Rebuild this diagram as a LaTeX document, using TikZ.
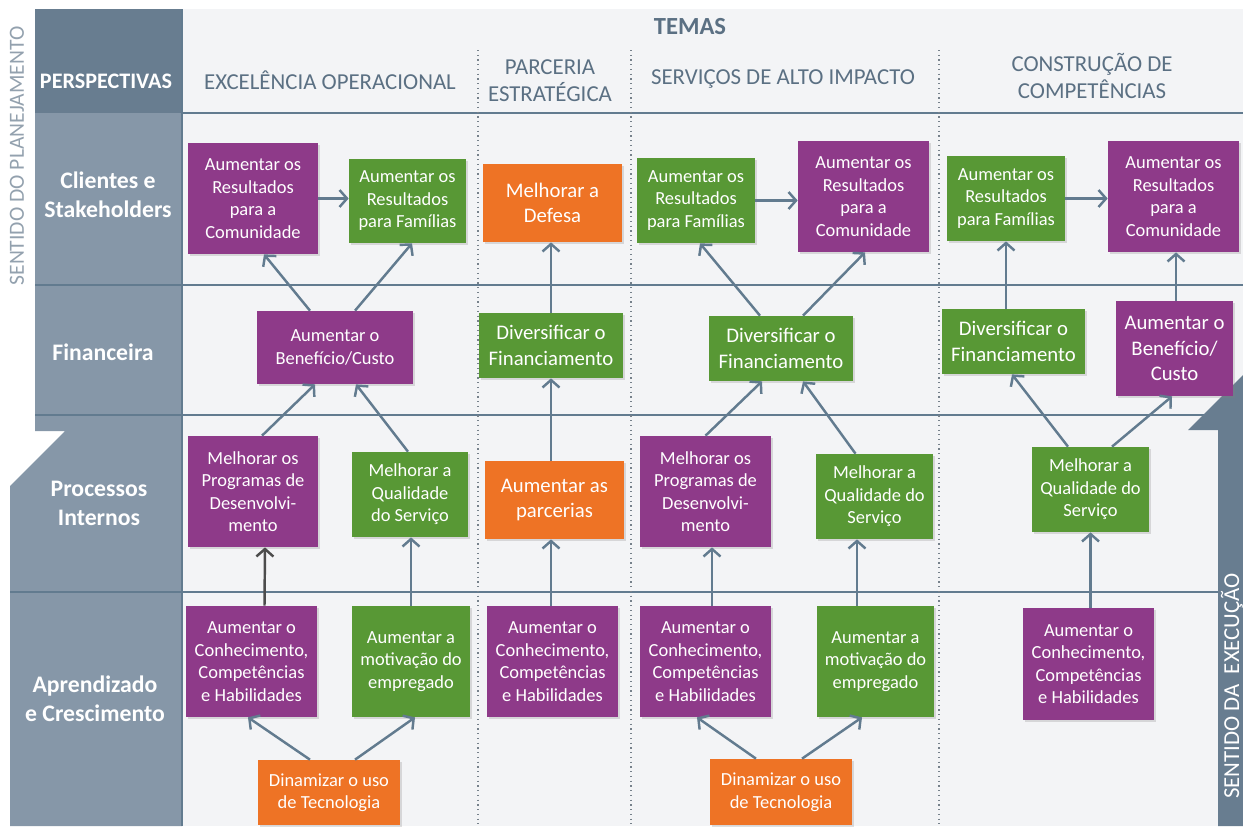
\documentclass[tikz,border=0pt]{standalone}
\usepackage{fontspec}
\setmainfont{Carlito}
\usetikzlibrary{arrows.meta,calc,shadows}

\definecolor{fundo}{HTML}{F3F4F6}
\definecolor{ardosia}{HTML}{687D90}
\definecolor{coluna}{HTML}{8697A8}
\definecolor{linha}{HTML}{627B8F}
\definecolor{titulo}{HTML}{5B7083}
\definecolor{lateral}{HTML}{93A1AE}
\definecolor{roxo}{HTML}{8E3A89}
\definecolor{verde}{HTML}{589835}
\definecolor{laranja}{HTML}{EE7325}

\begin{document}
\begin{tikzpicture}[x=0.02cm,y=-0.02cm,
    caixa/.style={rectangle,inner sep=1pt,align=center,text=white,
      font=\fontsize{10.5}{12.8}\selectfont,
      drop shadow={shadow xshift=1.2pt,shadow yshift=-1.2pt,opacity=0.25}},
    grande/.style={font=\fontsize{11.8}{14.6}\selectfont},
    caixaroxa/.style={caixa,fill=roxo},
    caixaverde/.style={caixa,fill=verde},
    caixalaranja/.style={caixa,fill=laranja},
    seta/.style={draw=linha,line width=1.4pt,-{Straight Barb[length=1.5mm,width=3.4mm]}},
    cabec/.style={align=center,text=titulo,font=\fontsize{13}{15.3}\selectfont},
    rotulo/.style={align=center,text=white,font=\bfseries\fontsize{13.5}{16.5}\selectfont}]
  \useasboundingbox (0,0) rectangle (1243,826);

  % fundo, coluna das perspectivas e grade
  \fill[fundo] (182,9) rectangle (1243,826);
  \fill[coluna] (35,113) -- (35,431) -- (65,431) -- (10,486) -- (10,826)
    -- (182,826) -- (182,113) -- cycle;
  \fill[ardosia] (35,9) rectangle (182,113);
  \draw[linha,line width=1pt] (182,9) -- (182,826);
  \draw[linha,line width=1.2pt] (182,113) -- (1243,113) (35,285) -- (1243,285)
    (35,415) -- (1243,415) (10,592) -- (1243,592);
  \draw[lateral!80!black,dotted,line width=0.7pt] (478,50) -- (478,826)
    (631,50) -- (631,826) (939,50) -- (939,826);
  \fill[ardosia] (1218,826) -- (1218,430) -- (1188,430) -- (1243,375)
    -- (1243,826) -- cycle;

  % titulos
  \node[text=titulo,font=\bfseries\fontsize{14}{16}\selectfont] (temas) at (690,27) {TEMAS};
  \node[cabec] (hEO) at (330,80) {EXCELÊNCIA OPERACIONAL};
  \node[cabec] (hPE) at (550,81) {PARCERIA\\ESTRATÉGICA};
  \node[cabec] (hSA) at (783,79) {SERVIÇOS DE ALTO IMPACTO};
  \node[cabec] (hCC) at (1092,76) {CONSTRUÇÃO DE\\COMPETÊNCIAS};
  \node[rotulo,font=\bfseries\fontsize{12.6}{14}\selectfont] (rPersp) at (106,81) {PERSPECTIVAS};
  \node[rotulo] (rClientes) at (108,195) {Clientes e\\Stakeholders};
  \node[rotulo] (rFin) at (103,352) {Financeira};
  \node[rotulo] (rProc) at (99,503) {Processos\\Internos};
  \node[rotulo] (rAprend) at (95,699) {Aprendizado\\e Crescimento};
  \node[rotate=90,text=lateral,font=\fontsize{12.3}{14}\selectfont] (sPlan) at (17,156)
    {SENTIDO DO PLANEJAMENTO};
  \node[rotate=90,text=white,font=\fontsize{13}{14}\selectfont] (sExec) at (1232,686)
    {SENTIDO DA\ \ EXECUÇÃO};

  % clientes e stakeholders
  \node[caixaroxa,minimum width=2.6cm,minimum height=2.22cm] (cA1) at (253,198.5)
    {Aumentar os\\Resultados\\para a\\Comunidade};
  \node[caixaverde,minimum width=2.34cm,minimum height=1.68cm] (cA2) at (407.5,201)
    {Aumentar os\\Resultados\\para Famílias};
  \node[caixalaranja,grande,minimum width=2.78cm,minimum height=1.56cm] (cB1) at (552.5,203)
    {Melhorar a\\Defesa};
  \node[caixaverde,minimum width=2.36cm,minimum height=1.7cm] (cC1) at (696,200.5)
    {Aumentar os\\Resultados\\para Famílias};
  \node[caixaroxa,minimum width=2.62cm,minimum height=2.22cm] (cC2) at (863.5,196.5)
    {Aumentar os\\Resultados\\para a\\Comunidade};
  \node[caixaverde,minimum width=2.36cm,minimum height=1.7cm] (cD1) at (1006,198.5)
    {Aumentar os\\Resultados\\para Famílias};
  \node[caixaroxa,minimum width=2.62cm,minimum height=2.22cm] (cD2) at (1173.5,196.5)
    {Aumentar os\\Resultados\\para a\\Comunidade};

  % financeira
  \node[caixaroxa,minimum width=3.12cm,minimum height=1.46cm] (cA3) at (335,347.5)
    {Aumentar o\\Benefício/Custo};
  \node[caixaverde,grande,minimum width=2.88cm,minimum height=1.3cm] (cB2) at (551,345.5)
    {Diversificar o\\Financiamento};
  \node[caixaverde,grande,minimum width=2.88cm,minimum height=1.3cm] (cC3) at (781,348.5)
    {Diversificar o\\Financiamento};
  \node[caixaverde,grande,minimum width=2.86cm,minimum height=1.3cm] (cD3) at (1013.5,341.5)
    {Diversificar o\\Financiamento};
  \node[caixaroxa,grande,minimum width=2.34cm,minimum height=1.9cm] (cD4) at (1174.5,348.5)
    {Aumentar o\\Benefício/\\Custo};

  % processos internos
  \node[caixaroxa,minimum width=2.6cm,minimum height=2.22cm] (cA4) at (253,491.5)
    {Melhorar os\\Programas de\\Desenvolvi-\\mento};
  \node[caixaverde,minimum width=2.32cm,minimum height=1.7cm] (cA5) at (410,494.5)
    {Melhorar a\\Qualidade\\do Serviço};
  \node[caixalaranja,grande,minimum width=2.78cm,minimum height=1.56cm] (cB3) at (554.5,500)
    {Aumentar as\\parcerias};
  \node[caixaroxa,minimum width=2.62cm,minimum height=2.22cm] (cC4) at (705.5,491.5)
    {Melhorar os\\Programas de\\Desenvolvi-\\mento};
  \node[caixaverde,minimum width=2.34cm,minimum height=1.7cm] (cC5) at (874.5,496.5)
    {Melhorar a\\Qualidade do\\Serviço};
  \node[caixaverde,minimum width=2.34cm,minimum height=1.7cm] (cD5) at (1090.5,489.5)
    {Melhorar a\\Qualidade do\\Serviço};

  % aprendizado e crescimento
  \node[caixaroxa,minimum width=2.62cm,minimum height=2.22cm] (cA6) at (251.5,661.5)
    {Aumentar o\\Conhecimento,\\Competências\\e Habilidades};
  \node[caixaverde,minimum width=2.36cm,minimum height=2.22cm] (cA7) at (411,661.5)
    {Aumentar a\\motivação do\\empregado};
  \node[caixalaranja,minimum width=2.84cm,minimum height=1.3cm] (cA8) at (329,792.5)
    {Dinamizar o uso\\de Tecnologia};
  \node[caixaroxa,minimum width=2.62cm,minimum height=2.22cm] (cB4) at (552.5,661.5)
    {Aumentar o\\Conhecimento,\\Competências\\e Habilidades};
  \node[caixaroxa,minimum width=2.62cm,minimum height=2.22cm] (cC6) at (705.5,661.5)
    {Aumentar o\\Conhecimento,\\Competências\\e Habilidades};
  \node[caixaverde,minimum width=2.34cm,minimum height=2.22cm] (cC7) at (875.5,661.5)
    {Aumentar a\\motivação do\\empregado};
  \node[caixalaranja,minimum width=2.84cm,minimum height=1.32cm] (cC8) at (781,792)
    {Dinamizar o uso\\de Tecnologia};
  \node[caixaroxa,minimum width=2.62cm,minimum height=2.24cm] (cD6) at (1088.5,664)
    {Aumentar o\\Conhecimento,\\Competências\\e Habilidades};

  % setas
  \draw[seta] (cA1.east) -- (cA1.east -| cA2.west);
  \draw[seta] (cC1.east) -- (cC1.east -| cC2.west);
  \draw[seta] (cD1.east) -- (cD1.east -| cD2.west);
  \draw[seta] ($(cA3.north)+(-25,0)$) -- ($(cA1.south)+(11,0)$);
  \draw[seta] ($(cA3.north)+(20,0)$) -- ($(cA2.south)+(4.5,0)$);
  \draw[seta] ($(cA4.north)+(9,0)$) -- ($(cA3.south)+(-20,0)$);
  \draw[seta] ($(cA5.north)+(-2,0)$) -- ($(cA3.south)+(21,0)$);
  \draw[seta,draw=black!70] ($(cA6.north)+(13,0)$) -- ($(cA4.south)+(12,0)$);
  \draw[seta] (cA7.north) -- (cA7.north |- cA5.south);
  \draw[seta] ($(cA8.north)+(-19,0)$) -- ($(cA6.south)+(-3.5,0)$);
  \draw[seta] ($(cA8.north)+(26,0)$) -- ($(cA7.south)+(4,0)$);
  \draw[seta] (cB2.north) -- (cB2.north |- cB1.south);
  \draw[seta] (cB3.north -| cB2.south) -- (cB2.south);
  \draw[seta] (cB4.north -| cB2.south) -- (cB3.south -| cB2.south);
  \draw[seta] ($(cC3.north)+(-21,0)$) -- ($(cC1.south)+(4,0)$);
  \draw[seta] ($(cC3.north)+(22,0)$) -- ($(cC2.south)+(1.5,0)$);
  \draw[seta] (cC4.north) -- ($(cC3.south)+(-19,0)$);
  \draw[seta] ($(cC5.north)+(-19,0)$) -- ($(cC3.south)+(22,0)$);
  \draw[seta] ($(cC6.north)+(6.5,0)$) -- ($(cC4.south)+(6.5,0)$);
  \draw[seta] ($(cC7.north)+(-18.5,0)$) -- ($(cC5.south)+(-17.5,0)$);
  \draw[seta] ($(cC8.north)+(-25,0)$) -- ($(cC6.south)+(-8.5,0)$);
  \draw[seta] ($(cC8.north)+(21,0)$) -- ($(cC7.south)+(-13.5,0)$);
  \draw[seta] (cD3.north -| cD1.south) -- (cD1.south);
  \draw[seta] ($(cD4.north)+(1.5,0)$) -- ($(cD2.south)+(2.5,0)$);
  \draw[seta] ($(cD5.north)+(-22.5,0)$) -- ($(cD3.south)+(-1.5,0)$);
  \draw[seta] ($(cD5.north)+(21.5,0)$) -- ($(cD4.south)+(-2.5,0)$);
  \draw[seta] (cD6.north -| cD5.south) -- (cD5.south);
\end{tikzpicture}
\end{document}
